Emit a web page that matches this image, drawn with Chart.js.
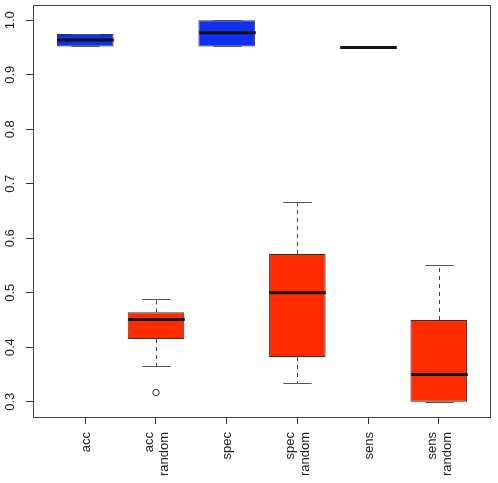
<!DOCTYPE html>
<html>
<head>
<meta charset="utf-8">
<script src="https://cdn.jsdelivr.net/npm/chart.js@4.4.1/dist/chart.umd.min.js"></script>
<style>
  html, body { margin: 0; padding: 0; background: #fff; }
  #wrap { width: 498px; height: 483px; position: relative; }
</style>
</head>
<body>
<div id="wrap"><canvas id="chart"></canvas></div>
<script>
// box statistics
const categories = [['acc'], ['acc', 'random'], ['spec'], ['spec', 'random'], ['sens'], ['sens', 'random']];
const q1 = [0.952, 0.415, 0.952, 0.382, 0.950, 0.300];
const medians = [0.964, 0.451, 0.977, 0.500, 0.950, 0.350];
const q3 = [0.975, 0.464, 1.000, 0.571, 0.950, 0.450];
const whiskerLow = [0.952, 0.366, 0.952, 0.334, 0.950, 0.300];
const whiskerHigh = [0.975, 0.488, 1.000, 0.667, 0.950, 0.551];
const outliers = [[], [0.317], [], [], [], []];
const yTicks = [0.3, 0.4, 0.5, 0.6, 0.7, 0.8, 0.9, 1.0];

const FONT = "'Liberation Sans', Arial, Helvetica, sans-serif";

// blue for the real model, red for the "random" baseline
const boxColors = categories.map(c => c.length > 1 ? '#ff2a00' : '#0f30f2');

const boxData = categories.map((c, i) => ({ x: i + 1, y: [q1[i], q3[i]] }));
const outlierData = [];
outliers.forEach((list, i) => list.forEach(v => outlierData.push({ x: i + 1, y: v })));

// medians, whiskers, caps, rotated tick labels and the frame
const boxplotExtras = {
  id: 'boxplotExtras',
  afterDatasetsDraw(chart) {
    const ctx = chart.ctx;
    const x = chart.scales.x, y = chart.scales.y;
    const unit = x.getPixelForValue(2) - x.getPixelForValue(1);
    const half = unit * 0.4;
    ctx.save();
    categories.forEach((c, i) => {
      const cx = Math.round(x.getPixelForValue(i + 1)) + 0.5;
      // dashed whiskers
      ctx.strokeStyle = '#444';
      ctx.lineWidth = 1;
      ctx.setLineDash([4, 4]);
      ctx.beginPath();
      ctx.moveTo(cx, y.getPixelForValue(q3[i]));
      ctx.lineTo(cx, y.getPixelForValue(whiskerHigh[i]));
      ctx.moveTo(cx, y.getPixelForValue(q1[i]));
      ctx.lineTo(cx, y.getPixelForValue(whiskerLow[i]));
      ctx.stroke();
      ctx.setLineDash([]);
      // caps
      ctx.strokeStyle = '#555';
      ctx.beginPath();
      [whiskerHigh[i], whiskerLow[i]].forEach(v => {
        const py = Math.round(y.getPixelForValue(v)) + 0.5;
        ctx.moveTo(cx - half / 2, py);
        ctx.lineTo(cx + half / 2, py);
      });
      ctx.stroke();
      // median
      ctx.strokeStyle = '#111';
      ctx.lineWidth = 3;
      ctx.beginPath();
      const my = y.getPixelForValue(medians[i]);
      ctx.moveTo(cx - half, my);
      ctx.lineTo(cx + half, my);
      ctx.stroke();
    });

    ctx.fillStyle = '#222';
    ctx.font = '13px ' + FONT;

    // y tick labels, parallel to the axis like R's default
    ctx.textAlign = 'center';
    ctx.textBaseline = 'middle';
    y.ticks.forEach(t => {
      ctx.save();
      ctx.translate(y.right - 23, y.getPixelForValue(t.value));
      ctx.rotate(-Math.PI / 2);
      ctx.fillText(t.value.toFixed(1), 0, 0);
      ctx.restore();
    });

    // x tick labels, vertical, lines centred on the tick
    ctx.textAlign = 'right';
    x.ticks.forEach(t => {
      const lines = categories[t.value - 1];
      const px = x.getPixelForValue(t.value);
      lines.forEach((line, j) => {
        ctx.save();
        ctx.translate(px + (j - (lines.length - 1) / 2) * 15 + 1, x.top + 15);
        ctx.rotate(-Math.PI / 2);
        ctx.fillText(line, 0, 0);
        ctx.restore();
      });
    });

    // frame
    const a = chart.chartArea;
    ctx.strokeStyle = '#444';
    ctx.lineWidth = 1;
    ctx.strokeRect(Math.round(a.left) + 0.5, Math.round(a.top) + 0.5,
      Math.round(a.right - a.left) - 1, Math.round(a.bottom - a.top));
    ctx.restore();
  }
};

new Chart(document.getElementById('chart'), {
  type: 'bar',
  data: {
    datasets: [
      {
        type: 'bar',
        data: boxData,
        backgroundColor: boxColors,
        borderColor: '#333',
        borderWidth: 1,
        borderSkipped: false,
        barPercentage: 0.8,
        categoryPercentage: 1.0,
        order: 2
      },
      {
        type: 'scatter',
        data: outlierData,
        pointStyle: 'circle',
        pointRadius: 3.2,
        backgroundColor: 'rgba(0,0,0,0)',
        borderColor: '#333',
        borderWidth: 1,
        order: 1
      }
    ]
  },
  options: {
    responsive: true,
    maintainAspectRatio: false,
    animation: false,
    layout: { padding: { top: 5, right: 7, left: 0, bottom: 0 } },
    plugins: {
      legend: { display: false },
      tooltip: { enabled: false }
    },
    scales: {
      x: {
        type: 'linear',
        min: 0.26,
        max: 6.74,
        offset: false,
        afterBuildTicks: s => { s.ticks = categories.map((c, i) => ({ value: i + 1 })); },
        afterFit: s => { s.height = 66; },
        grid: { offset: false, drawOnChartArea: false, drawTicks: true, tickLength: 7, color: '#333' },
        border: { display: false },
        ticks: { display: false }
      },
      y: {
        type: 'linear',
        min: 0.272,
        max: 1.028,
        afterBuildTicks: s => { s.ticks = yTicks.map(v => ({ value: v })); },
        afterFit: s => { s.width = 33; },
        grid: { drawOnChartArea: false, drawTicks: true, tickLength: 7, color: '#333' },
        border: { display: false },
        ticks: { display: false }
      }
    }
  },
  plugins: [boxplotExtras]
});
</script>
</body>
</html>
